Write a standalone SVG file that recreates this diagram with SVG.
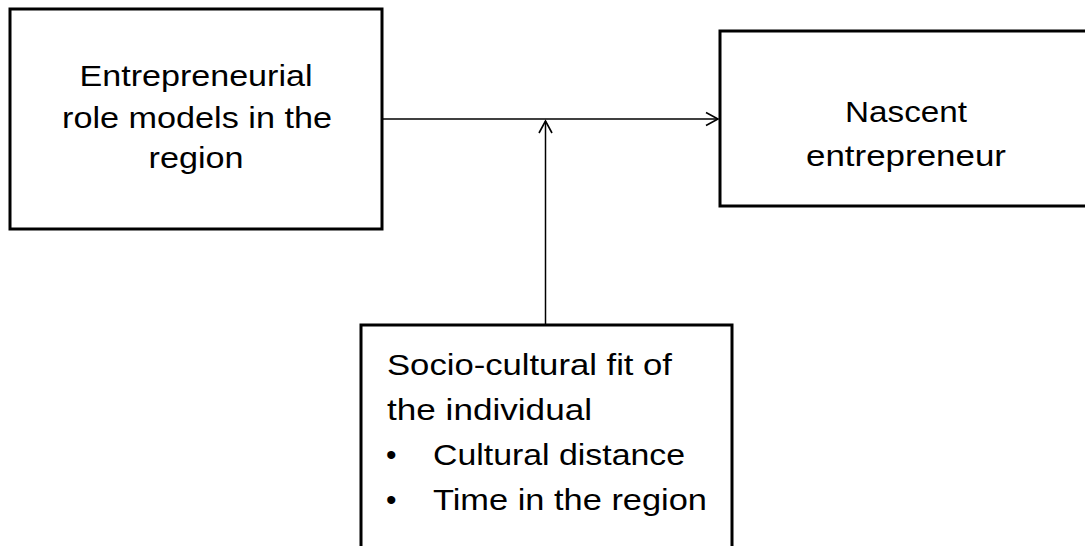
<svg xmlns="http://www.w3.org/2000/svg" width="1085" height="546" viewBox="0 0 1085 546">
  <style>
    .box { fill: #ffffff; stroke: #000000; stroke-width: 3; }
    .lbl { font-family: "Liberation Sans", Arial, sans-serif; font-size: 30px; fill: #000000; }
    .mid { text-anchor: middle; }
    .conn { fill: none; stroke: #000000; stroke-width: 1.5; }
  </style>
  <defs>
    <marker id="arrow" viewBox="0 0 16 16" refX="14" refY="8" markerWidth="16" markerHeight="16" markerUnits="userSpaceOnUse" orient="auto">
      <path d="M2,1.5 L14,8 L2,14.5" fill="none" stroke="#000000" stroke-width="1.6"/>
    </marker>
  </defs>
  <rect width="1085" height="546" fill="#ffffff"/>

  <g id="node-role-models">
    <rect class="box" x="10" y="9" width="372" height="220"/>
    <text class="lbl mid" x="196" y="86" textLength="233" lengthAdjust="spacingAndGlyphs">Entrepreneurial</text>
    <text class="lbl mid" x="197" y="128" textLength="270" lengthAdjust="spacingAndGlyphs">role models in the</text>
    <text class="lbl mid" x="196" y="168" textLength="95" lengthAdjust="spacingAndGlyphs">region</text>
  </g>

  <g id="node-nascent">
    <rect class="box" x="720" y="31" width="372" height="175"/>
    <text class="lbl mid" x="906" y="122" textLength="122" lengthAdjust="spacingAndGlyphs">Nascent</text>
    <text class="lbl mid" x="906" y="166" textLength="200" lengthAdjust="spacingAndGlyphs">entrepreneur</text>
  </g>

  <g id="node-fit">
    <rect class="box" x="361" y="325" width="371" height="240"/>
    <text class="lbl" x="387" y="375" textLength="285" lengthAdjust="spacingAndGlyphs">Socio-cultural fit of</text>
    <text class="lbl" x="387" y="420" textLength="205" lengthAdjust="spacingAndGlyphs">the individual</text>
    <text class="lbl" x="386" y="465">•</text>
    <text class="lbl" x="433" y="465" textLength="252" lengthAdjust="spacingAndGlyphs">Cultural distance</text>
    <text class="lbl" x="386" y="510">•</text>
    <text class="lbl" x="433" y="510" textLength="274" lengthAdjust="spacingAndGlyphs">Time in the region</text>
  </g>

  <g id="connectors">
    <line class="conn" x1="382" y1="119" x2="718" y2="119" marker-end="url(#arrow)"/>
    <line class="conn" x1="545.5" y1="325" x2="545.5" y2="121" marker-end="url(#arrow)"/>
  </g>
</svg>
